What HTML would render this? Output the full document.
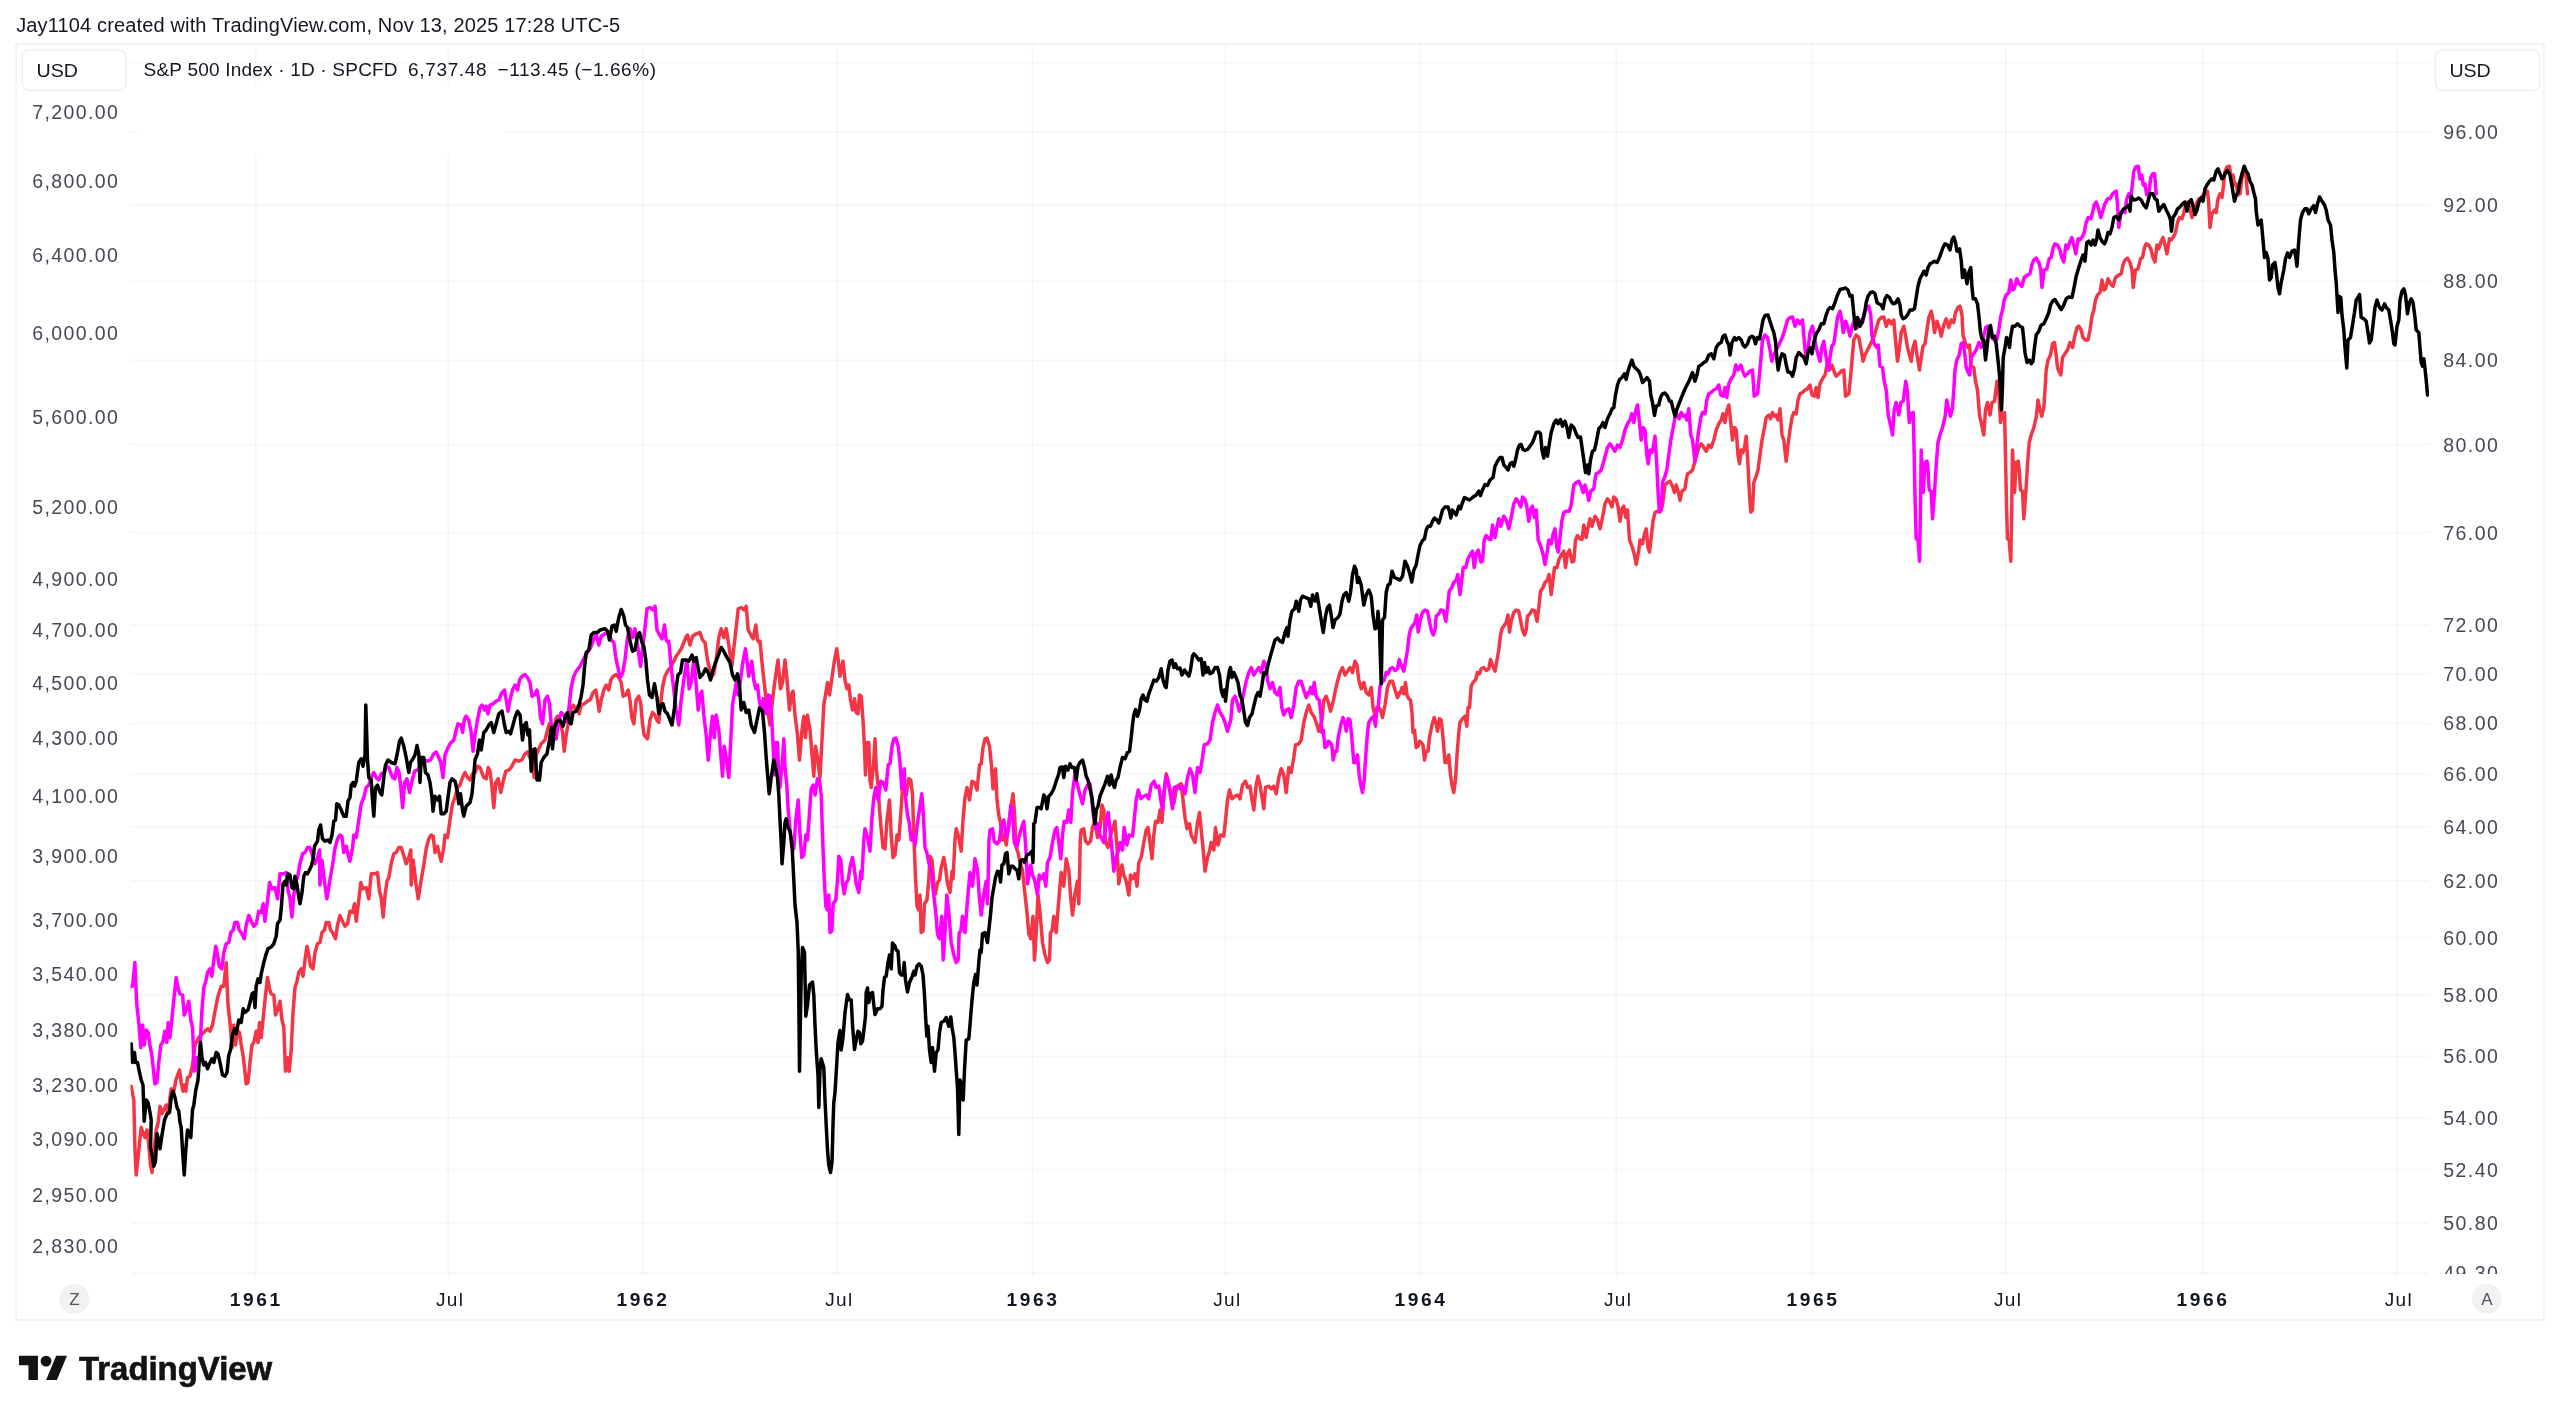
<!DOCTYPE html>
<html><head><meta charset="utf-8"><title>TradingView chart</title>
<style>
html,body{margin:0;padding:0;background:#fff;}
body{width:2560px;height:1417px;overflow:hidden;font-family:"Liberation Sans",sans-serif;}
svg{display:block;position:absolute;left:0;top:0;will-change:transform}
text{font-family:"Liberation Sans",sans-serif;}
.ax{font-size:19.5px;fill:#454955}
.tl{font-size:19px;fill:#131722}
.tb{font-size:19.2px;font-weight:bold;fill:#131722}
</style></head><body>
<svg width="2560" height="1417" viewBox="0 0 2560 1417">
<rect x="0" y="0" width="2560" height="1417" fill="#ffffff"/>

<g stroke="#2a2e39" stroke-opacity="0.042" stroke-width="1.6" fill="none">
<line x1="255.75" y1="44" x2="255.75" y2="1276"/>
<line x1="448.25" y1="44" x2="448.25" y2="1276"/>
<line x1="642.5" y1="44" x2="642.5" y2="1276"/>
<line x1="837.5" y1="44" x2="837.5" y2="1276"/>
<line x1="1032.5" y1="44" x2="1032.5" y2="1276"/>
<line x1="1225.5" y1="44" x2="1225.5" y2="1276"/>
<line x1="1420.5" y1="44" x2="1420.5" y2="1276"/>
<line x1="1616.25" y1="44" x2="1616.25" y2="1276"/>
<line x1="1812.5" y1="44" x2="1812.5" y2="1276"/>
<line x1="2006.25" y1="44" x2="2006.25" y2="1276"/>
<line x1="2202.5" y1="44" x2="2202.5" y2="1276"/>
<line x1="2397" y1="44" x2="2397" y2="1276"/>
<line x1="131" y1="62.8" x2="2429" y2="62.8"/>
<line x1="131" y1="132.3" x2="2429" y2="132.3"/>
<line x1="131" y1="205" x2="2429" y2="205"/>
<line x1="131" y1="281.25" x2="2429" y2="281.25"/>
<line x1="131" y1="360.25" x2="2429" y2="360.25"/>
<line x1="131" y1="444.5" x2="2429" y2="444.5"/>
<line x1="131" y1="532.5" x2="2429" y2="532.5"/>
<line x1="131" y1="625" x2="2429" y2="625"/>
<line x1="131" y1="673.75" x2="2429" y2="673.75"/>
<line x1="131" y1="723.25" x2="2429" y2="723.25"/>
<line x1="131" y1="774" x2="2429" y2="774"/>
<line x1="131" y1="826.75" x2="2429" y2="826.75"/>
<line x1="131" y1="880.75" x2="2429" y2="880.75"/>
<line x1="131" y1="937.5" x2="2429" y2="937.5"/>
<line x1="131" y1="995" x2="2429" y2="995"/>
<line x1="131" y1="1056.25" x2="2429" y2="1056.25"/>
<line x1="131" y1="1118.25" x2="2429" y2="1118.25"/>
<line x1="131" y1="1169.5" x2="2429" y2="1169.5"/>
<line x1="131" y1="1222.9" x2="2429" y2="1222.9"/>
</g>
<rect x="139" y="86" width="367" height="70" fill="#fff"/>
<line x1="131" y1="1273.4" x2="2429" y2="1273.4" stroke="#2a2e39" stroke-opacity="0.042" stroke-width="1.6"/>
<defs><clipPath id="pane"><rect x="130.5" y="44" width="2298.5" height="1229"/></clipPath></defs>
<g clip-path="url(#pane)" fill="none" stroke-width="3.5" stroke-linejoin="round" stroke-linecap="round">
<polyline stroke="#f23645" points="131.2,1086.2 133.8,1100 135,1150 136.2,1175 138.8,1150 141.2,1127.5 143,1132.5 145,1137.5 147,1130 148.8,1145 150.5,1165 152,1172.5 153.8,1150 156.2,1130 158.2,1122.5 160,1106.2 162,1113.8 163.8,1110 166.2,1105 168,1113.8 170,1097.5 171.2,1088.8 173.8,1091.2 176.2,1078.8 179.5,1070 181.2,1082.5 183,1091.2 184.5,1085 185.8,1091.2 187.5,1077.5 190,1076.2 192.5,1065 195,1045 198.8,1037.5 202.5,1033.8 206.2,1030 208,1028.8 210,1031.2 212.5,1025 215,1011.2 218,996.2 221.2,986.2 223.8,986.2 226.2,962.5 228,1005 230,1022.5 232,1047.5 233.8,1025 235.5,1045 237.5,1030 239.5,1032.5 241.2,1045 243,1055 244.5,1067.5 246.2,1083.8 248,1082.5 250,1062.5 252,1045 253.8,1042.5 256.2,1031.2 258,1042.5 259.5,1022.5 261.2,1037.5 263,1020 265,1000 267.5,977.5 269.5,988.8 271.2,993.8 273.8,995 275.5,1015 277.5,1010 280,1001.2 282,1020 283.8,1027.5 285.5,1071.2 287.5,1057.5 289.2,1071.2 291.2,1050 293,1012.5 295,987.5 297,981.2 298.8,972.5 301.2,968.8 303,976.2 305,960 307,946.2 308.8,955 310.5,966.2 313,968.8 315,952.5 317.5,943.8 320,942.5 322,932.5 324.5,930 326.2,922.5 328.8,922.5 330.5,930 332.5,932.5 335.5,938.8 337.5,925 340,915.5 342.5,921.2 345,926.2 347.5,923.8 350,911.2 352.5,912.5 354.5,903.8 356.2,921.2 358.8,900 360.8,882.5 363,888.8 366.2,887.5 368.8,898.8 371.2,873.8 374.5,873.8 377.5,872.5 379.5,891.2 381.2,897.5 383.2,917 385,895 387,881.2 388.8,877.5 391.2,863.8 393.8,853.8 396.2,852.5 398.8,847.5 401.2,847.5 403.2,853.8 406.2,863.8 408.8,857.5 410.8,850 411.2,885 413.2,860 415.8,882.5 418.2,898.8 421.2,880 423.8,865 426.2,848.8 428.8,838.8 431.2,835 433.2,836.2 435,852.5 437.5,846.2 439.2,853.8 441.2,861.2 443.8,847.5 445,835 447.5,837.5 450,820 452.5,803.8 455,797.5 457.5,787.5 460,785 462.5,777.5 465,772.5 467.5,777.5 470,780 472.5,773.8 475,772.5 477.5,766.2 480,767.5 481.8,772.5 483.8,777.5 486.2,778.8 488.2,767.5 490,771.2 491.8,785 493.8,807.5 495.8,782.5 498.2,778.8 500.8,792.5 503.2,781.2 505.8,771.2 508.8,770 511.2,767.5 515,760 518.8,761.2 521.8,760 525,753.8 527.5,752 530,757.5 532,762.5 534.2,777.5 536.2,755 538.8,748.8 541.2,743.8 545,740 547.5,730 549.2,723.8 552.5,725 553.8,732.5 555.8,718.8 557.5,716.2 560,720 562.5,732.5 564.2,751.2 566.2,735 568.8,720 571.2,707.5 573.2,705 575.8,710 577.5,706.2 579.2,713.8 581.2,705 584.2,703.8 587.5,701.2 590,700 593.2,692.5 595.8,690 597.5,700 599.2,711.2 601.2,700 603.8,690 606.2,685 608.8,690 610.8,680 613.2,676.2 616.2,674.5 618.8,677.5 621.2,682.5 623.2,696.2 625.8,695 628.2,690 630,700 631.8,717.5 633.8,723.8 636.2,700 638.8,696.2 640.8,703.8 642.5,723.8 644.2,735 647.5,738.8 650,720 652.5,712.5 655,715 656.8,720 658.8,722.5 660.8,702.5 662.5,687.5 665,676.2 667.5,671.2 671.2,666.2 673.8,661.2 676.2,656.2 678.8,652.5 681.2,648.8 683.8,642.5 685.8,637.5 687.5,635 690,645 692.5,636.2 696.2,633.8 700,632.5 702.5,640 705,642.5 707.5,660 709.2,667.5 711.2,677.5 713.8,673.8 716.2,660 718.8,637.5 721.2,628.8 723.8,637.5 726.2,628.8 728.8,645 731.8,666.2 734.2,645 736.2,627.5 738.2,608.8 741.2,607.5 744.2,610 746.2,606.2 748.2,630 750.8,635 753.2,638.8 755.8,625 757.5,640 759.2,642.5 760,641.2 762.5,667.5 765,690 767.5,710 770,725 772.5,700 775,680 778,660 780.5,688.8 782.5,682.5 785,660 787,680 789.5,710 791.2,695 793,691.2 795,715 797.5,735 799.5,760 802,730 803.8,716.2 805.5,737.5 807.5,715 810,730 812.5,760 813.8,776.2 815.5,746.2 817.5,757.5 820,777.5 822,740 823.8,705 825.5,695 827.5,682.5 829.5,695 832,677.5 834.5,660 836.8,648.8 838.8,665 840,676.2 843,661.2 845,680 847,688.8 848.8,685 850.5,700 852.5,710 854.5,698.8 856.2,712.5 858,713.8 859.5,695 861.2,696.2 863,720 864.5,747.5 865.5,775 867,742.5 868.8,742.5 870,780 871.2,787.5 873.8,760 875,738.8 876.2,767.5 878,785 879.5,810 881.2,828.8 883,847.5 885,848.8 887,820 889.5,800 891.2,835 893,857.5 895,855 897,835 898.8,840 900.5,817.5 902.5,788.8 904.5,785 906.2,795 908.8,778.8 910.8,780 912.5,795 913.8,835 915.5,877.5 917,906.2 918.8,910 920,895 921.2,932.5 923,931.2 924.5,903.8 927,900 928.8,880 930,856.2 932,860 933.8,882.5 935.5,893.8 937.5,882.5 939.5,880 941.2,867.5 943.8,857.5 945.5,867.5 947.5,883.8 950,892.5 952,871.2 953,878.8 954,860 955,840 956.2,828.8 958.8,837.5 961.2,851.2 963,820 965,797.5 967,787.5 969.5,800 972,781.2 974.5,782.5 977,790 979.5,765 981.2,763.8 983,747.5 985,738.8 987,738 989.5,746.2 991.2,762.5 993,788.8 995.5,768.8 997,800 998.8,815 1000.5,822.5 1002.5,840 1004.5,835 1006.2,845 1008.8,822.5 1011.2,806.2 1013,793.8 1014.5,812.5 1016.2,847.5 1018,852.5 1020,862.5 1022.5,870 1024.5,890 1027,912.5 1028.8,933.8 1030.8,938.8 1033,916.2 1034.5,960 1036.2,932.5 1038,895 1040,912.5 1042.5,942.5 1045,955 1047.5,962.5 1049.5,960 1050.5,932.5 1052,931.2 1053.8,916.2 1056.2,932.5 1058.8,900 1061.2,872.5 1063.8,886.2 1066.2,858.8 1068.8,870 1070.5,895 1072.5,915 1075,893.8 1077.5,881.2 1078.8,903.8 1079.8,865 1080.2,840 1081.2,830 1083.8,828.8 1085.5,841.2 1088,843.8 1090.5,841.2 1092.5,827.5 1095,820 1097.5,837.5 1100,827.5 1102,805 1103.8,810 1105.5,842.5 1108,847.5 1110,837.5 1112.5,828.8 1115,821.2 1117,847.5 1118.8,883.8 1122,865 1123.8,875 1126.2,881.2 1128.8,895 1130.5,875 1132.5,878.8 1135,873.8 1137,886.2 1138.8,862.5 1141.2,857.5 1143.8,842.5 1146.2,830 1148,827.5 1150,842.5 1152,858.8 1153.8,835 1155.5,821.2 1158,822.5 1160,810 1162,822.5 1163.8,792.5 1166.2,773.8 1168.8,785 1171.2,795 1173.8,803.8 1176.2,790 1178.8,785 1181.2,783.8 1183,800 1185,817.5 1187,828.8 1189.5,823.8 1191.2,835 1195,842.5 1197.5,822.5 1199.5,812.5 1201.2,830 1203,847.5 1205,871.2 1207.5,857.5 1209.5,851.2 1211.2,842.5 1213.8,850 1215.5,827.5 1218,845 1220.5,835 1223.8,836.2 1225.5,820 1227.5,800 1229.5,790 1232,798.8 1235,796.2 1237.5,795 1240,798.8 1242.5,785 1245.5,781.2 1247.5,787.5 1250,786.2 1252,800 1253.8,810 1256.2,785 1258,776.2 1260,785 1262,797.5 1263.8,808.8 1265.5,787.5 1268.8,786.2 1271.2,788.8 1273.8,786.2 1276.2,793.8 1278.8,777.5 1281.2,768.8 1283.8,775 1286.2,792.5 1288.8,767.5 1291.2,772.5 1293.8,757.5 1295.5,745 1298.8,743.8 1301.2,740 1303.8,722.5 1306.2,712.5 1308.8,705 1311.2,712.5 1313.8,716.2 1316.2,722.5 1318.8,731.2 1322,720 1323.8,700 1326.2,696.2 1328.8,703.8 1330.5,711.2 1333,702.5 1335,692.5 1337.5,681.2 1340,672.5 1342.5,667.5 1345,675 1347.5,671.2 1350,667.5 1352.5,672.5 1355,661.2 1357,665 1358.8,680 1361.2,688.8 1363.8,682.5 1366.2,692.5 1368.8,695 1371.2,687.5 1373,707.5 1375,715 1377.5,710 1380,708.8 1382.5,717.5 1385,705 1387.5,687.5 1390,681.2 1392.5,681.2 1395,690 1397.5,697.5 1399.5,692.5 1400,693.8 1402,687.5 1403.8,693.8 1405.5,682.5 1407,695 1408.8,698.8 1410.5,700 1412,712.5 1413,732.5 1414.5,730 1416.2,747.5 1418,746.2 1419.5,741.2 1421.2,742.5 1423,745 1424.5,760 1426.2,751.2 1428,751.2 1429.5,737.5 1432,725 1434.2,717.5 1436.2,723.8 1437.5,731.2 1439.5,718.8 1441.2,720 1443,737.5 1445,762.5 1447,762.5 1448.8,755 1450.5,775 1452,785 1453.8,792.5 1455.5,780 1457,755 1458.8,732.5 1460,722.5 1462.5,718.8 1465,716.2 1466.8,726.2 1468,707.5 1469.5,707.5 1471.2,686.2 1473,682.5 1475.5,680 1477.5,672.5 1479.5,673.8 1481.2,668.8 1483.8,667.5 1486.2,670.5 1488.8,668.8 1490.5,659.5 1492.5,665 1495,671.2 1497,660 1498.8,650 1500.5,635 1502,628.8 1504.5,625 1506.2,622.5 1508,615 1509.5,632 1511.2,621.2 1513.8,612.5 1516.2,610 1518.8,611.2 1520.5,620 1522.5,630 1524.5,635 1526.2,630 1527.5,616.2 1530,613.8 1532,610 1534.5,610.5 1537,621.2 1538.8,607.5 1540.5,591.2 1543,587.5 1545,582.5 1547.5,580 1549,574.5 1551.2,594.5 1553,580 1554.5,567.5 1557,567.5 1558.8,560 1561.2,555 1563.8,551.2 1565.5,567.5 1567.5,553.8 1569.5,550 1572,562 1573.8,561.2 1575.5,540 1577.5,535.5 1580,538.8 1582,539.5 1583.8,525 1586.2,537.5 1588,527.5 1590,518.8 1592,526.2 1595,516.2 1597.5,520 1600,528.8 1602.5,517.5 1605,503.8 1607.5,498.8 1610,502.5 1612,507 1613.8,497 1616.2,499.5 1618,506.2 1620,521.2 1622,508.8 1623.8,506.2 1625.8,517.5 1627.5,510 1629.5,540 1632,546.2 1634.5,555 1636.2,564.5 1638.8,550 1640,540 1642.5,543.8 1644.5,533.8 1646.2,528.8 1648,547.5 1649.5,552 1651.2,537.5 1653,521.2 1655,512.5 1657.5,511.2 1660.5,511.2 1662.5,505 1665,485 1667.5,482.5 1670,481.2 1672.5,486.2 1674.5,492.5 1676.2,485 1678.8,493.8 1680,500.5 1682,491.2 1685,488.8 1686.2,480 1687.5,473.8 1690,472.5 1692.5,470 1695,461.2 1697,453.8 1698.8,447.5 1701.2,443.8 1703.8,447.5 1706.2,451.2 1708.8,445 1711.2,447.5 1713.8,440 1716.2,430 1718.8,423.8 1721.2,420 1723,413.8 1725,422.5 1727,410 1728.8,405 1730.5,420 1732.5,440 1734.5,427.5 1736.2,430 1738,455 1739.5,463.8 1741.2,450 1743,452.5 1744.5,447.5 1746.2,436.2 1748,465 1749.5,495 1750.8,512 1752.5,510 1753.8,482.5 1756.2,476.2 1758,470 1760,455 1762,440 1764.5,427.5 1766.2,417.5 1768.8,415 1770.5,418.8 1772.5,412.5 1774.5,416.2 1776.2,415 1778,420 1780,408.8 1782,435 1783.8,440 1786.2,461.2 1788,445 1790,430 1792,417.5 1793.8,412.5 1796.2,413.8 1798,400 1800,393.8 1802.5,392.5 1805,390 1807.5,388.8 1810,385 1812,395 1814.5,396.2 1816.2,387.5 1818,397.5 1820,383.8 1822.5,378.8 1825,375 1827,365 1829.5,370 1832,365 1834.5,372.5 1836.2,376.2 1838.8,373.8 1841.2,371.2 1843.8,370 1845.5,396.2 1848.8,393.8 1850.5,377.5 1852,360 1853.8,340 1856.2,335 1858.8,337.5 1861.2,350 1863,361.2 1865,355 1867.5,350 1870,345 1872.5,340 1874.5,335 1876.2,328.8 1878.8,320 1881.2,317.5 1883.8,317 1886.2,326.2 1888.8,320 1891.2,323.8 1893.8,320 1895.5,340 1897.5,361.2 1899.5,347.5 1901.2,332.5 1903.8,326.2 1905.5,335 1907.5,347.5 1909.5,355 1911.2,361.2 1913,347.5 1915,341.2 1917,355 1919.5,370 1921.2,357.5 1923,346.2 1925,343.8 1927,330 1928.8,317.5 1931.2,311.2 1933,320 1934.5,332.5 1937,321.2 1939.5,328.8 1941.2,336.2 1943.8,325 1946.2,318.8 1948.8,327.5 1951.2,320 1953.8,322.5 1955.5,312.5 1958,307.5 1960,306.2 1962,315 1963,335 1965.5,343.8 1968,347.5 1969.5,345 1971.2,366.2 1973.8,367.5 1975.5,381.2 1977.5,390 1979.5,415 1981.2,422.5 1983.8,435 1985.5,410 1987.5,402.5 1990,415 1992,402.5 1994.5,401.2 1997,381.2 1998.8,392.5 2000.5,422.5 2002.5,413.8 2004.5,412.5 2005.5,455 2006.5,505 2007.5,538.8 2009.2,540 2010.8,561.2 2011.8,505 2012.5,450 2014.5,492.5 2016.2,462.5 2018.2,461.2 2019.2,470 2020.5,490 2022.5,491.2 2023.8,518.8 2025.8,492.5 2027.5,465 2029.2,442.5 2031.2,435 2033.8,427.5 2036.2,417.5 2038,400 2040,410 2041.8,416.2 2043.8,407.5 2045,390 2046.2,370 2048,360 2050.5,355 2052.5,343.8 2054.5,342.5 2056.2,355 2057.5,367.5 2059.5,372.5 2060.8,375 2062.5,357.5 2065,353.8 2067.5,350 2070,342.5 2072.5,347.5 2074.5,337.5 2077,327.5 2078.8,326.2 2081.2,330 2083,337.5 2085.5,340 2088,340 2090,330 2092,316.2 2093.8,310 2095.5,300 2097.5,295 2100,292.5 2102,280 2103.8,290 2105.5,288.8 2108,278.8 2110.5,283.8 2113,286.2 2115.5,277.5 2118.8,275 2121.2,273.8 2123,265 2125,260 2127.5,258 2130,262.5 2132,270 2133.2,287.5 2135.5,270 2138,268.8 2140.5,258.8 2142.5,257.5 2144.5,247.5 2146.2,243.8 2148.8,245 2151.2,250 2153,257.5 2155,262 2157,245 2158.8,248.8 2160.8,242.5 2163,237.5 2165,245 2167,253.8 2169.5,238.8 2171.2,240 2173.8,236.2 2175.5,232.5 2177.5,222.5 2179.5,217.5 2182,218.8 2183.8,212.5 2185.5,205 2187.5,202 2189.5,207.5 2192,217.5 2193.8,211.2 2196.2,203.8 2198.8,198.8 2201.2,198.8 2203.8,193.8 2205.5,192.5 2207.5,191.2 2208.8,205 2210,227.5 2212,213.8 2214.5,210 2216.2,212.5 2218,198.8 2220,193.8 2222,197.5 2223.8,182.5 2225,171.2 2227,167 2229.5,166.2 2231.2,178.8 2233,175 2234.5,185 2236.2,183.8 2238,195 2240,193.8 2242,177.5 2243.8,173.8 2245.8,173.8 2247.5,193.8"/>
<polyline stroke="#ff00ff" points="39.9,1086.2 42.6,1100 43.8,1150 44.9,1175 47.6,1150 49.9,1127.5 51.8,1132.5 53.8,1137.5 55.8,1130 57.6,1145 59.2,1165 60.8,1172.5 62.6,1150 64.9,1130 66.9,1122.5 68.8,1106.2 70.8,1113.8 72.6,1110 74.9,1105 76.8,1113.8 78.8,1097.5 79.9,1088.8 82.6,1091.2 84.9,1078.8 88.2,1070 89.9,1082.5 91.8,1091.2 93.2,1085 94.6,1091.2 96.2,1077.5 98.8,1076.2 101.2,1065 103.8,1045 107.6,1037.5 111.2,1033.8 114.9,1030 116.8,1028.8 118.8,1031.2 121.2,1025 123.8,1011.2 126.8,996.2 129.9,986.2 132.6,986.2 134.9,962.5 136.8,1005 138.8,1022.5 140.8,1047.5 142.6,1025 144.2,1045 146.2,1030 148.2,1032.5 149.9,1045 151.8,1055 153.2,1067.5 154.9,1083.8 156.8,1082.5 158.8,1062.5 160.8,1045 162.6,1042.5 164.9,1031.2 166.8,1042.5 168.2,1022.5 169.9,1037.5 171.8,1020 173.8,1000 176.2,977.5 178.2,988.8 179.9,993.8 182.6,995 184.2,1015 186.2,1010 188.8,1001.2 190.8,1020 192.6,1027.5 194.2,1071.2 196.2,1057.5 197.9,1071.2 199.9,1050 201.8,1012.5 203.8,987.5 205.8,981.2 207.6,972.5 209.9,968.8 211.8,976.2 213.8,960 215.8,946.2 217.6,955 219.2,966.2 221.8,968.8 223.8,952.5 226.2,943.8 228.8,942.5 230.8,932.5 233.2,930 234.9,922.5 237.6,922.5 239.2,930 241.2,932.5 244.2,938.8 246.2,925 248.8,915.5 251.2,921.2 253.8,926.2 256.2,923.8 258.8,911.2 261.2,912.5 263.2,903.8 264.9,921.2 267.6,900 269.6,882.5 271.8,888.8 274.9,887.5 277.6,898.8 279.9,873.8 283.2,873.8 286.2,872.5 288.2,891.2 289.9,897.5 291.9,917 293.8,895 295.8,881.2 297.6,877.5 299.9,863.8 302.6,853.8 304.9,852.5 307.6,847.5 309.9,847.5 311.9,853.8 314.9,863.8 317.6,857.5 319.6,850 319.9,885 321.9,860 324.6,882.5 326.9,898.8 329.9,880 332.6,865 334.9,848.8 337.6,838.8 339.9,835 341.9,836.2 343.8,852.5 346.2,846.2 347.9,853.8 349.9,861.2 352.6,847.5 353.8,835 356.2,837.5 358.8,820 361.2,803.8 363.8,797.5 366.2,787.5 368.8,785 371.2,777.5 373.8,772.5 376.2,777.5 378.8,780 381.2,773.8 383.8,772.5 386.2,766.2 388.8,767.5 390.6,772.5 392.6,777.5 394.9,778.8 396.9,767.5 398.8,771.2 400.6,785 402.6,807.5 404.6,782.5 406.9,778.8 409.6,792.5 411.9,781.2 414.6,771.2 417.6,770 419.9,767.5 423.8,760 427.5,761.2 430.5,760 433.8,753.8 436.2,752 438.8,757.5 440.8,762.5 443,777.5 445,755 447.5,748.8 450,743.8 453.8,740 456.2,730 458,723.8 461.2,725 462.5,732.5 464.5,718.8 466.2,716.2 468.8,720 471.2,732.5 473,751.2 475,735 477.5,720 480,707.5 482,705 484.5,710 486.2,706.2 488,713.8 490,705 493,703.8 496.2,701.2 498.8,700 502,692.5 504.5,690 506.2,700 508,711.2 510,700 512.5,690 515,685 517.5,690 519.5,680 522,676.2 525,674.5 527.5,677.5 530,682.5 532,696.2 534.5,695 537,690 538.8,700 540.5,717.5 542.5,723.8 545,700 547.5,696.2 549.5,703.8 551.2,723.8 553,735 556.2,738.8 558.8,720 561.2,712.5 563.8,715 565.5,720 567.5,722.5 569.5,702.5 571.2,687.5 573.8,676.2 576.2,671.2 580,666.2 582.5,661.2 585,656.2 587.5,652.5 590,648.8 592.5,642.5 594.5,637.5 596.2,635 598.8,645 601.2,636.2 605,633.8 608.8,632.5 611.2,640 613.8,642.5 616.2,660 618,667.5 620,677.5 622.5,673.8 625,660 627.5,637.5 630,628.8 632.5,637.5 635,628.8 637.5,645 640.5,666.2 643,645 645,627.5 647,608.8 650,607.5 653,610 655,606.2 657,630 659.5,635 662,638.8 664.5,625 666.2,640 668,642.5 668.8,641.2 671.2,667.5 673.8,690 676.2,710 678.8,725 681.2,700 683.8,680 686.8,660 689.2,688.8 691.2,682.5 693.8,660 695.8,680 698.2,710 700,695 701.8,691.2 703.8,715 706.2,735 708.2,760 710.8,730 712.5,716.2 714.2,737.5 716.2,715 718.8,730 721.2,760 722.5,776.2 724.2,746.2 726.2,757.5 728.8,777.5 730.8,740 732.5,705 734.2,695 736.2,682.5 738.2,695 740.8,677.5 743.2,660 745.5,648.8 747.5,665 748.8,676.2 751.8,661.2 753.8,680 755.8,688.8 757.5,685 759.2,700 761.2,710 763.2,698.8 765,712.5 766.8,713.8 768.2,695 770,696.2 771.8,720 773.2,747.5 774.2,775 775.8,742.5 777.5,742.5 778.8,780 780,787.5 782.5,760 783.8,738.8 785,767.5 786.8,785 788.2,810 790,828.8 791.8,847.5 793.8,848.8 795.8,820 798.2,800 800,835 801.8,857.5 803.8,855 805.8,835 807.5,840 809.2,817.5 811.2,788.8 813.2,785 815,795 817.5,778.8 819.5,780 821.2,795 822.5,835 824.2,877.5 825.8,906.2 827.5,910 828.8,895 830,932.5 831.8,931.2 833.2,903.8 835.8,900 837.5,880 838.8,856.2 840.8,860 842.5,882.5 844.2,893.8 846.2,882.5 848.2,880 850,867.5 852.5,857.5 854.2,867.5 856.2,883.8 858.8,892.5 860.8,871.2 861.8,878.8 862.8,860 863.8,840 865,828.8 867.5,837.5 870,851.2 871.8,820 873.8,797.5 875.8,787.5 878.2,800 880.8,781.2 883.2,782.5 885.8,790 888.2,765 890,763.8 891.8,747.5 893.8,738.8 895.8,738 898.2,746.2 900,762.5 901.8,788.8 904.2,768.8 905.8,800 907.5,815 909.2,822.5 911.2,840 913.2,835 915,845 917.5,822.5 920,806.2 921.8,793.8 923.2,812.5 925,847.5 926.8,852.5 928.8,862.5 931.2,870 933.2,890 935.8,912.5 937.5,933.8 939.5,938.8 941.8,916.2 943.2,960 945,932.5 946.8,895 948.8,912.5 951.2,942.5 953.8,955 956.2,962.5 958.2,960 959.2,932.5 960.8,931.2 962.5,916.2 965,932.5 967.5,900 970,872.5 972.5,886.2 975,858.8 977.5,870 979.2,895 981.2,915 983.8,893.8 986.2,881.2 987.5,903.8 988.5,865 989,840 990,830 992.5,828.8 994.2,841.2 996.8,843.8 999.2,841.2 1001.2,827.5 1003.8,820 1006.2,837.5 1008.8,827.5 1010.8,805 1012.5,810 1014.2,842.5 1016.8,847.5 1018.8,837.5 1021.2,828.8 1023.8,821.2 1025.8,847.5 1027.5,883.8 1030.8,865 1032.5,875 1035,881.2 1037.5,895 1039.2,875 1041.2,878.8 1043.8,873.8 1045.8,886.2 1047.5,862.5 1050,857.5 1052.5,842.5 1055,830 1056.8,827.5 1058.8,842.5 1060.8,858.8 1062.5,835 1064.2,821.2 1066.8,822.5 1068.8,810 1070.8,822.5 1072.5,792.5 1075,773.8 1077.5,785 1080,795 1082.5,803.8 1085,790 1087.5,785 1090,783.8 1091.8,800 1093.8,817.5 1095.8,828.8 1098.2,823.8 1100,835 1103.8,842.5 1106.2,822.5 1108.2,812.5 1110,830 1111.8,847.5 1113.8,871.2 1116.2,857.5 1118.2,851.2 1120,842.5 1122.5,850 1124.2,827.5 1126.8,845 1129.2,835 1132.5,836.2 1134.2,820 1136.2,800 1138.2,790 1140.8,798.8 1143.8,796.2 1146.2,795 1148.8,798.8 1151.2,785 1154.2,781.2 1156.2,787.5 1158.8,786.2 1160.8,800 1162.5,810 1165,785 1166.8,776.2 1168.8,785 1170.8,797.5 1172.5,808.8 1174.2,787.5 1177.5,786.2 1180,788.8 1182.5,786.2 1185,793.8 1187.5,777.5 1190,768.8 1192.5,775 1195,792.5 1197.5,767.5 1200,772.5 1202.5,757.5 1204.2,745 1207.5,743.8 1210,740 1212.5,722.5 1215,712.5 1217.5,705 1220,712.5 1222.5,716.2 1225,722.5 1227.5,731.2 1230.8,720 1232.5,700 1235,696.2 1237.5,703.8 1239.2,711.2 1241.8,702.5 1243.8,692.5 1246.2,681.2 1248.8,672.5 1251.2,667.5 1253.8,675 1256.2,671.2 1258.8,667.5 1261.2,672.5 1263.8,661.2 1265.8,665 1267.5,680 1270,688.8 1272.5,682.5 1275,692.5 1277.5,695 1280,687.5 1281.8,707.5 1283.8,715 1286.2,710 1288.8,708.8 1291.2,717.5 1293.8,705 1296.2,687.5 1298.8,681.2 1301.2,681.2 1303.8,690 1306.2,697.5 1308.2,692.5 1308.8,693.8 1310.8,687.5 1312.5,693.8 1314.2,682.5 1315.8,695 1317.5,698.8 1319.2,700 1320.8,712.5 1321.8,732.5 1323.2,730 1325,747.5 1326.8,746.2 1328.2,741.2 1330,742.5 1331.8,745 1333.2,760 1335,751.2 1336.8,751.2 1338.2,737.5 1340.8,725 1343,717.5 1345,723.8 1346.2,731.2 1348.2,718.8 1350,720 1351.8,737.5 1353.8,762.5 1355.8,762.5 1357.5,755 1359.2,775 1360.8,785 1362.5,792.5 1364.2,780 1365.8,755 1367.5,732.5 1368.8,722.5 1371.2,718.8 1373.8,716.2 1375.5,726.2 1376.8,707.5 1378.2,707.5 1380,686.2 1381.8,682.5 1384.2,680 1386.2,672.5 1388.2,673.8 1390,668.8 1392.5,667.5 1395,670.5 1397.5,668.8 1399.2,659.5 1401.2,665 1403.8,671.2 1405.8,660 1407.5,650 1409.2,635 1410.8,628.8 1413.2,625 1415,622.5 1416.8,615 1418.2,632 1420,621.2 1422.5,612.5 1425,610 1427.5,611.2 1429.2,620 1431.2,630 1433.2,635 1435,630 1436.2,616.2 1438.8,613.8 1440.8,610 1443.2,610.5 1445.8,621.2 1447.5,607.5 1449.2,591.2 1451.8,587.5 1453.8,582.5 1456.2,580 1457.8,574.5 1460,594.5 1461.8,580 1463.2,567.5 1465.8,567.5 1467.5,560 1470,555 1472.5,551.2 1474.2,567.5 1476.2,553.8 1478.2,550 1480.8,562 1482.5,561.2 1484.2,540 1486.2,535.5 1488.8,538.8 1490.8,539.5 1492.5,525 1495,537.5 1496.8,527.5 1498.8,518.8 1500.8,526.2 1503.8,516.2 1506.2,520 1508.8,528.8 1511.2,517.5 1513.8,503.8 1516.2,498.8 1518.8,502.5 1520.8,507 1522.5,497 1525,499.5 1526.8,506.2 1528.8,521.2 1530.8,508.8 1532.5,506.2 1534.5,517.5 1536.2,510 1538.2,540 1540.8,546.2 1543.2,555 1545,564.5 1547.5,550 1548.8,540 1551.2,543.8 1553.2,533.8 1555,528.8 1556.8,547.5 1558.2,552 1560,537.5 1561.8,521.2 1563.8,512.5 1566.2,511.2 1569.2,511.2 1571.2,505 1573.8,485 1576.2,482.5 1578.8,481.2 1581.2,486.2 1583.2,492.5 1585,485 1587.5,493.8 1588.8,500.5 1590.8,491.2 1593.8,488.8 1595,480 1596.2,473.8 1598.8,472.5 1601.2,470 1603.8,461.2 1605.8,453.8 1607.5,447.5 1610,443.8 1612.5,447.5 1615,451.2 1617.5,445 1620,447.5 1622.5,440 1625,430 1627.5,423.8 1630,420 1631.8,413.8 1633.8,422.5 1635.8,410 1637.5,405 1639.2,420 1641.2,440 1643.2,427.5 1645,430 1646.8,455 1648.2,463.8 1650,450 1651.8,452.5 1653.2,447.5 1655,436.2 1656.8,465 1658.2,495 1659.5,512 1661.2,510 1662.5,482.5 1665,476.2 1666.8,470 1668.8,455 1670.8,440 1673.2,427.5 1675,417.5 1677.5,415 1679.2,418.8 1681.2,412.5 1683.2,416.2 1685,415 1686.8,420 1688.8,408.8 1690.8,435 1692.5,440 1695,461.2 1696.8,445 1698.8,430 1700.8,417.5 1702.5,412.5 1705,413.8 1706.8,400 1708.8,393.8 1711.2,392.5 1713.8,390 1716.2,388.8 1718.8,385 1720.8,395 1723.2,396.2 1725,387.5 1726.8,397.5 1728.8,383.8 1731.2,378.8 1733.8,375 1735.8,365 1738.2,370 1740.8,365 1743.2,372.5 1745,376.2 1747.5,373.8 1750,371.2 1752.5,370 1754.2,396.2 1757.5,393.8 1759.2,377.5 1760.8,360 1762.5,340 1765,335 1767.5,337.5 1770,350 1771.8,361.2 1773.8,355 1776.2,350 1778.8,345 1781.2,340 1783.2,335 1785,328.8 1787.5,320 1790,317.5 1792.5,317 1795,326.2 1797.5,320 1800,323.8 1802.5,320 1804.2,340 1806.2,361.2 1808.2,347.5 1810,332.5 1812.5,326.2 1814.2,335 1816.2,347.5 1818.2,355 1820,361.2 1821.8,347.5 1823.8,341.2 1825.8,355 1828.2,370 1830,357.5 1831.8,346.2 1833.8,343.8 1835.8,330 1837.5,317.5 1840,311.2 1841.8,320 1843.2,332.5 1845.8,321.2 1848.2,328.8 1850,336.2 1852.5,325 1855,318.8 1857.5,327.5 1860,320 1862.5,322.5 1864.2,312.5 1866.8,307.5 1868.8,306.2 1870.8,315 1871.8,335 1874.2,343.8 1876.8,347.5 1878.2,345 1880,366.2 1882.5,367.5 1884.2,381.2 1886.2,390 1888.2,415 1890,422.5 1892.5,435 1894.2,410 1896.2,402.5 1898.8,415 1900.8,402.5 1903.2,401.2 1905.8,381.2 1907.5,392.5 1909.2,422.5 1911.2,413.8 1913.2,412.5 1914.2,455 1915.2,505 1916.2,538.8 1918,540 1919.5,561.2 1920.5,505 1921.2,450 1923.2,492.5 1925,462.5 1927,461.2 1928,470 1929.2,490 1931.2,491.2 1932.5,518.8 1934.5,492.5 1936.2,465 1938,442.5 1940,435 1942.5,427.5 1945,417.5 1946.8,400 1948.8,410 1950.5,416.2 1952.5,407.5 1953.8,390 1955,370 1956.8,360 1959.2,355 1961.2,343.8 1963.2,342.5 1964.9,355 1966.2,367.5 1968.2,372.5 1969.6,375 1971.2,357.5 1973.8,353.8 1976.2,350 1978.8,342.5 1981.2,347.5 1983.2,337.5 1985.8,327.5 1987.6,326.2 1989.9,330 1991.8,337.5 1994.2,340 1996.8,340 1998.8,330 2000.8,316.2 2002.6,310 2004.2,300 2006.2,295 2008.8,292.5 2010.8,280 2012.6,290 2014.2,288.8 2016.8,278.8 2019.2,283.8 2021.8,286.2 2024.2,277.5 2027.6,275 2029.9,273.8 2031.8,265 2033.8,260 2036.2,258 2038.8,262.5 2040.8,270 2041.9,287.5 2044.2,270 2046.8,268.8 2049.2,258.8 2051.2,257.5 2053.2,247.5 2054.9,243.8 2057.6,245 2059.9,250 2061.8,257.5 2063.8,262 2065.8,245 2067.6,248.8 2069.6,242.5 2071.8,237.5 2073.8,245 2075.8,253.8 2078.2,238.8 2079.9,240 2082.6,236.2 2084.2,232.5 2086.2,222.5 2088.2,217.5 2090.8,218.8 2092.6,212.5 2094.2,205 2096.2,202 2098.2,207.5 2100.8,217.5 2102.6,211.2 2104.9,203.8 2107.6,198.8 2109.9,198.8 2112.6,193.8 2114.2,192.5 2116.2,191.2 2117.6,205 2118.8,227.5 2120.8,213.8 2123.2,210 2124.9,212.5 2126.8,198.8 2128.8,193.8 2130.8,197.5 2132.6,182.5 2133.8,171.2 2135.8,167 2138.2,166.2 2139.9,178.8 2141.8,175 2143.2,185 2144.9,183.8 2146.8,195 2148.8,193.8 2150.8,177.5 2152.6,173.8 2154.6,173.8 2156.2,193.8"/>
<polyline stroke="#000000" points="131.2,1043.8 132.5,1062.5 134.5,1052.5 135.5,1062.5 137.5,1062.5 139.5,1072.5 141.2,1080 143,1085 144.2,1121.2 146.2,1100 148,1102.5 150,1112.5 151.2,1120 150.5,1147.5 152.5,1157.5 153.8,1166.2 155.5,1161.2 157,1133.8 158.8,1140 160,1148.8 162,1135 164.5,1120 167,1113.8 169.5,1112.5 171.2,1097.5 173,1091.2 175,1097.5 177,1107.5 178.8,1111.2 180,1122.5 181.2,1127.5 182.5,1150 184.2,1175 185.8,1150 187.5,1130 189.5,1132.5 190.8,1137.5 192.5,1110 193.8,1105 195.8,1090 198,1080 199.5,1057.5 200.5,1042.5 202,1057.5 203.8,1065 205.5,1062.5 207.5,1068.8 209.5,1063.8 212,1058.8 213.8,1062.5 216.2,1052.5 218,1053.8 220,1062.5 222.5,1075 225,1076.2 227,1072.5 228.8,1055 230.5,1050 232.5,1035 234.5,1028.8 236.2,1033.8 238.8,1020 241.2,1022.5 243.2,1008.8 245,1012.5 248,1010 250,1002.5 252,993.8 253.8,992.5 255,1007.5 256.2,986.2 258,978.8 260,982.5 261.2,973.8 263.8,962.5 266.2,953.8 268,948.8 271.2,947 273.8,943.8 276.2,936.2 277.5,923.8 280,920 281.2,908.8 283,883.8 285,881.2 286.2,885 288,873.8 290,875 292,887.5 293.8,888.8 295,876.2 297,885 298.8,897.5 300,903.8 302,892.5 303.8,876.2 305.5,872.5 307.5,873.8 309.5,870 311.2,866.2 313,860 314.5,846.2 317.5,841.2 318.8,830 320.5,825 322.5,838.8 325,841.2 328,840 330,842.5 332,835 333.8,821.2 335.5,820 336.8,803.8 338.8,805 341.2,810 343.8,816.2 346.2,816.2 348,801.2 350,797.5 351.2,785 353,782.5 354.5,786.2 356.2,781.2 358.8,762.5 361.2,758.8 363,766.2 365,755 365.8,705 367.5,760 368.8,777.5 371.2,780 372.5,800 373.8,816.2 375.5,787.5 377.5,785 380,792.5 381.8,795 383.8,777.5 385.5,765 388,760 391.2,762.5 395,763.8 397.5,752.5 399.5,741.2 401.2,738 403.8,746.2 406.2,757.5 408.8,772.5 410.5,762.5 413,758.8 415,755 417,745.5 418.8,753.8 420,782.5 421.2,757.5 423.8,757.5 425.5,772.5 428,775 430,782.5 432,797.5 433,811.2 435,796.2 437.5,800 439.5,796.2 441.2,813.8 443.8,813.8 446.2,811.2 448,797.5 450,782.5 452,778.8 455,781.2 457,790 458.8,803.8 460.5,793.8 462.5,810 463.8,816.2 466.2,806.2 470,802.5 472,793.8 473.8,775 475,760 477.5,753.8 479.5,740 481.2,750 483.8,732.5 486.2,730 488.8,725 491.2,722.5 493.8,732.5 496.2,723.8 498.8,713.8 502,711.2 504.5,725 506.2,732.5 508.8,731.2 510.5,733.8 513,725 515,717.5 517.5,711.2 520,715 522.5,740 524.5,725 526.2,722.5 528,735 529.5,730 531.2,771.2 533,750 535,748.8 537,780 539.5,780 541.2,762.5 543.8,757.5 547,753.8 549.5,740 551.2,727.5 552.5,748.8 554.5,727.5 557,721.2 560,720 563,726.2 565.5,716.2 567.5,712.5 569.5,722.5 571.2,723.8 573,712.5 576.2,711.2 578.8,706.2 581.2,696.2 583,685 584.5,667.5 586.2,652.5 588.8,650 591.2,635 593.8,632.5 597.5,632.5 600,630 605,628.8 607.5,631.2 609.5,640 612,626.2 614.5,625 616.2,631.2 618.8,617.5 621.2,609.5 623.8,616.2 625.5,625 627.5,627.5 630,641.2 632.5,651.2 635,650 637.5,635 639.5,632.5 642,642.5 643.8,646.2 645.8,660 647.5,680 649.5,695 652,697.5 654.5,683.8 657,697.5 658.8,713.8 661.2,705 663,703.8 665,711.2 667.5,713.8 670,720 672,725 674.5,707.5 676.2,687.5 678,675 680.5,672.5 682.5,660 685.5,660 688.8,661.2 692,655 693.8,661.2 696.2,657.5 698,667.5 700,677.5 703,673.8 705.5,668.8 708,672.5 710.5,680 713,670 715.5,662.5 718,656.2 721.2,647.5 723.8,651.2 726.2,656.2 730,662.5 732.5,675 735,680 737.5,673.8 739.5,685 741.2,710 743.8,702.5 746.2,712.5 748.8,710 751.2,725 754.5,732.5 757,720 759.5,708 762.5,711.2 764.5,732.5 766.2,757.5 768,780 769.2,793.8 771.2,777.5 773.8,760 775.5,767.5 777.5,777.5 778.8,795 780,820 781.2,842.5 782,863.8 783.8,842.5 785,822.5 786.2,818.8 788,827.5 790,831.2 792,845 793.8,880 795,905 797,922.5 798.2,950 798.8,1000 799.5,1071.2 801.2,975 802.5,947.5 804.5,952.5 805.8,1016.2 807.5,1005 809.5,985 812.5,982 813.8,995 815,1025 816.2,1050 818,1075 818.8,1107.5 820,1070 821.2,1058.8 823.8,1067.5 825,1100 826.2,1125 827.5,1150 828.8,1165 830.5,1172.5 832,1162.5 833,1125 833.8,1102.5 835,1092.5 836.2,1072.5 838,1042.5 840,1030.5 841.2,1050 843,1037.5 845,1012.5 847.5,994.5 849.5,1000 851.2,1000 852.5,1025 854.5,1049.5 856.2,1040 858,1031.2 859.5,1032.5 860.8,1043.8 862.5,1041.2 864.5,1025 865.5,1016.2 866.2,992.5 867.5,988 868.8,1002.5 870.5,993.8 872.5,992.5 873.8,1005 875,1014.5 877.5,1008.8 880,1008.8 882,1006.2 883,990 884.5,977.5 886.2,976.2 888,962.5 889.5,955 891.2,968.8 892.5,943 895,946.2 896.2,950 898,951.2 899.5,972.5 901.2,975 903,975 904.2,962.5 905.5,980 907.5,992 909.5,982.5 912,977 913.8,971.2 915,975 917,966.2 919,963.8 921.2,966.2 923,975 924.5,995 925.5,1015 926.8,1036.2 928,1026.2 929.5,1050 931.2,1062.5 932.5,1047.5 934.5,1071.2 936.2,1052.5 938,1050 939.5,1032.5 941.2,1022.5 943.8,1021.2 946.2,1017.5 948.8,1026.2 950.8,1017 952,1027.5 953.8,1037.5 955,1052.5 956.2,1070 957.5,1087.5 958.8,1134.5 960,1080 962,1087.5 963.2,1100 964.5,1070 966.2,1040 968.8,1038.8 970,1025 972,1000 973.8,982.5 975.5,974.5 977,985 978.8,962.5 980,950 981.2,952.5 982.5,933.8 985,932.5 987.5,942.5 988.8,930 990.5,915 992,897.5 993.8,887.5 995.5,877.5 997.5,871.2 999.5,872.5 1000.5,882 1002,865 1003.8,863.8 1005.5,853.8 1007,852.5 1008.8,873.8 1010.8,866.2 1013,866.2 1015,868.8 1017,870 1018.8,878.8 1020.5,861.2 1022.5,859.5 1024.5,862.5 1027,855 1029.5,853.8 1032,851.2 1033,862.5 1033.8,823.8 1035,822.5 1037,807.5 1039.5,807.5 1041.2,808.8 1043.8,795 1045.5,797.5 1047,808.8 1048.8,796.2 1051.2,793.8 1053.8,788.8 1056.2,781.2 1058.8,773.8 1060,767.5 1062.5,767 1063.8,777.5 1065.5,766.2 1068,770 1070,763.8 1072,767.5 1074.5,767.5 1076.2,780 1078,766.2 1080,762.5 1082.5,760 1084.5,767.5 1086.2,776.2 1088,780 1090,788.8 1092,797.5 1093.8,815 1095,823.8 1096.2,810 1098,806.2 1100,796.2 1102.5,790 1105,783.8 1107.5,776.2 1109.5,785 1111.2,775 1113,783.8 1114.5,787.5 1116.2,780 1118,777.5 1120,767.5 1122.5,757.5 1125,758.8 1127.5,752.5 1129.5,751.2 1131.2,737.5 1132.5,725 1133.8,715 1135.5,709.5 1137.5,716.2 1139.5,710 1141.2,698.8 1143,695 1145,700 1147,701.2 1148.8,693.8 1151.2,687.5 1153.8,680 1156.2,681.2 1158.8,677.5 1161.2,668.8 1163,680 1165,686.2 1166.2,687.5 1168,670 1170,661.2 1172,660 1173.8,667.5 1175.5,663.8 1177.5,668.8 1180,668 1182,675 1184.5,670 1187,673.8 1188.8,676.2 1190.5,670 1192.5,656.2 1193.8,653.8 1196.2,656.2 1198.8,660 1201.2,658.8 1203,675 1204.5,662.5 1206.2,672.5 1208,667.5 1210,673.8 1212.5,672.5 1215,667.5 1217.5,667.5 1219.5,675 1221.2,690 1223,696.2 1224.5,690 1225.5,701.2 1227.5,682.5 1229.5,670 1230.5,667.5 1232,677.5 1233.8,672.5 1235.5,676.2 1238,682.5 1240,695 1242,700 1243.8,711.2 1245.5,722.5 1247.5,725.5 1249.5,717.5 1252,713.8 1253.8,706.2 1256.2,696.2 1258,692.5 1260,696.2 1262,685 1263.8,672.5 1266.2,673.8 1268,665 1270,657.5 1272.5,648.8 1275,640 1277.5,638 1280,641.2 1282.5,642.5 1285,632.5 1287,627.5 1288,636.2 1290,620 1292,611.2 1294.5,608.8 1296.2,601.2 1298.8,611.2 1300.5,600 1302.5,596.2 1305.5,597.5 1308.8,598.8 1310.8,606.2 1312.5,595 1315,601.2 1317,593.8 1318.8,605 1321.2,620 1323.2,632.5 1325.5,616.2 1327.5,607.5 1329.5,605 1331.2,615 1333,627.5 1335,620 1338,617.5 1340,613.8 1342,601.2 1343.8,595 1346.2,592.5 1348.8,601.2 1350.5,592.5 1352.5,575 1354.5,566.2 1356.2,570 1357.5,582.5 1358.8,577.5 1361.2,585 1363.8,605 1366.2,595 1368.8,590 1371.2,596.2 1373,615 1375,628.8 1377,627.5 1378,611.2 1379.5,630 1381.2,683.8 1382.5,620 1384.5,617.5 1386.2,592.5 1388,585 1390,583.8 1392,571.2 1394.5,577.5 1397.5,578.8 1399.5,580 1400,580 1402.5,576.2 1405,561.2 1407.5,566.2 1410,574.5 1411.8,582 1413.8,570 1416.2,565 1418,555 1420,545.5 1422.5,540.5 1424.5,538.8 1426.2,530 1428,526.2 1430.5,526.2 1432.5,521.2 1434.5,518 1437,520 1438.8,523 1440.5,517.5 1442.5,510 1445,507 1448,507 1449.5,511.2 1450.8,518 1452.5,510 1454.5,512.5 1456.2,515 1458.8,506.2 1460.5,508.8 1462.5,502.5 1464.5,497.5 1467,498.8 1469.5,500 1472.5,497.5 1476.2,495 1478.8,491.2 1480.5,495.5 1482.5,490 1485,484.5 1487.5,485.5 1490,480 1493,477.5 1495,466.2 1497.5,461.2 1500,457.5 1502,457.5 1503.8,465 1506.2,467.5 1508,470 1510,463.8 1512,462.5 1513.8,466.2 1515.5,460 1517.5,450 1519.5,445 1521.2,444.5 1523,449.5 1525,450.5 1527.5,449.5 1530,446.2 1532.5,442.5 1534.5,437.5 1536.2,432.5 1538.8,432 1540.5,433.8 1542,450 1543.8,458 1545.5,447.5 1547.5,456.2 1549.5,442.5 1551.2,432.5 1553.8,423.8 1556.2,420 1558,423.8 1560.5,419.5 1562.5,426.2 1565,421.2 1567,427.5 1568.8,437.5 1571.2,425 1573.8,427.5 1576.2,433.8 1578,437.5 1580.5,437 1582,447.5 1583.8,460 1585.5,472.5 1587.5,465 1588.8,473.8 1590.5,460 1592.5,451.2 1594.5,450 1596.2,442.5 1598.8,428.8 1601.2,426.2 1603,422.5 1605,427.5 1607.5,418.8 1610,413.8 1612,408.8 1613.8,407.5 1615.5,395 1617.5,385 1619.5,379.5 1622,377.5 1624.5,373.8 1626.2,379.5 1628,371.2 1630,365 1632,360 1633.8,366.2 1636.2,368.8 1638.8,371.2 1640.5,375 1642.5,382.5 1645,380 1647,377.5 1649.5,381.2 1650.8,395 1652.5,402.5 1654.5,415.5 1656.2,406.2 1658.8,405 1660.5,397.5 1662.5,393.8 1665,393 1667.5,396.2 1669.5,401.2 1671.2,401.2 1673,408.8 1675,416.2 1677,408.8 1679.5,402.5 1682,396.2 1684.5,390 1687,385 1689.5,380 1692.5,372.5 1695,381.2 1697,375 1698.8,366.2 1701.2,365 1703.8,362.5 1706.2,361.2 1708.8,355 1711.2,353.8 1713.8,358.8 1716.2,347.5 1718.8,343.8 1721.2,342.5 1723,336.2 1725,335 1727,341.2 1728.8,345 1730,355 1732,342.5 1734.5,337.5 1736.2,340 1738.8,337.5 1741.2,340 1743,345 1745,347 1747.5,343.8 1749.5,338 1752,336.2 1753.8,337.5 1755.5,343.8 1757.5,337.5 1759.5,338.8 1761.2,330 1763,320 1765,315.5 1768,315 1770,321.2 1772,327.5 1773.8,332.5 1775.5,341.2 1777,360 1778.2,370 1780,360 1782,353.8 1784.5,355 1786.2,365 1788,372 1790.5,372.5 1792.5,376.2 1794.5,368.8 1796.2,357.5 1798.8,352.5 1801.2,355 1803.8,357.5 1806.2,363.8 1808,352.5 1810,347.5 1812,353.8 1813.8,342.5 1816.2,333.8 1818.8,330 1821.2,323.8 1823.8,323.8 1825.8,316.2 1828,310 1830,307.5 1832.5,308.8 1835,302.5 1837.5,295 1840,289.5 1843,288.8 1845.5,288 1848,290 1850,296.2 1852,295.5 1853.8,313.8 1855.5,328.8 1857.5,317.5 1860,326.2 1862,322.5 1864.5,313.8 1866.2,302.5 1868,296.2 1870.5,292.5 1873,292 1875,293.8 1877,302.5 1878.8,303.8 1881.2,305 1883,308.8 1885,298.8 1887,295.5 1889.5,297.5 1891.2,301.2 1893,303.8 1895.5,303 1898,298.8 1900,305 1901.2,315 1903,318.8 1905.5,317.5 1907.5,315 1910,310 1912.5,310 1914.5,308.8 1916.2,297.5 1918,286.2 1920,278.8 1922,275 1923.8,271.2 1926.2,275 1928,267.5 1930,263.8 1932.5,262.5 1934.5,261.2 1937,262.5 1939.5,257.5 1941.2,252.5 1943,247.5 1945,243.8 1947.5,245 1950,250 1952,240 1953.8,237 1955.5,242.5 1957,251.2 1959.5,248.8 1961.2,260 1962.5,277.5 1964.5,270 1967,283.8 1968.8,272.5 1970.8,267.5 1972,287.5 1973.2,298.8 1975.5,298.8 1977.5,303.8 1978.8,315 1980.5,332.5 1982,338.8 1983.8,340 1985.5,360 1987,347.5 1988.8,330 1990.5,325.5 1992.5,337.5 1994.5,336.2 1996.2,343.8 1998,360 1999.5,375 2000.5,392.5 2001.5,410 2002.5,385 2003.2,357.5 2005,347.5 2006.5,337.5 2008,340 2009.5,347.5 2010.5,337.5 2012.5,326.2 2015,326.2 2017.5,323.8 2020,326.2 2022.5,327.5 2023.8,340 2025,352.5 2027,362.5 2029.5,360 2031.2,363.8 2033,361.2 2034.5,347.5 2036.2,335 2038.8,331.2 2041.2,325 2043.8,323.8 2046.2,318.8 2048.8,312.5 2050.5,305 2052.5,301.2 2055,299.5 2057.5,303.8 2061.2,309.5 2063.8,305 2066.2,298.8 2068.8,297 2072,297.5 2073.8,288.8 2076.2,276.2 2078.8,267.5 2081.2,260 2083,255 2085,261.2 2086.8,242.5 2088.8,241.2 2091.2,245 2093,240 2095,245 2096.8,238.8 2098,230 2100,237.5 2102,241.2 2104.5,243.8 2106.2,240 2108,232.5 2110,233.8 2112,227.5 2113.8,217.5 2116.2,216.2 2118.8,220 2121.2,212.5 2123.8,208.8 2126.2,207.5 2128.8,205 2130,211.2 2131.2,196.2 2133.8,200 2136.2,199.5 2138.8,198 2141.2,200 2143.8,205 2146.2,208 2148,201.2 2150,193.8 2153,193.8 2155,198.8 2157,200 2158.8,211.2 2161.2,207.5 2163.8,204.5 2166.2,210 2168.8,215 2170.5,220 2171.5,231.2 2173,217.5 2175.5,213.8 2177.5,208.8 2180,207 2182.5,203.8 2185,202 2187,211.2 2188.8,202.5 2191.2,199.5 2193,206.2 2195,214.5 2197,210 2198.8,202.5 2201.2,197.5 2203,201.2 2205,188.8 2207,185 2209.5,181.2 2212,178.8 2213.8,180 2216.2,171.2 2218,168.8 2220,173.8 2222,178.8 2223.8,177 2225.5,172.5 2227.5,170.5 2230,175 2232,186.2 2234.5,201.2 2236.2,195 2238,192.5 2240,181.2 2242,173.8 2244.2,166.2 2246.2,171.2 2248,173.8 2250,181.2 2252,185 2253.8,192.5 2255.5,198.8 2256.2,211.2 2258,225 2259.5,222.5 2261.2,220 2263,240 2264.5,257.5 2266.2,252.5 2268,258.8 2269.5,280 2271.2,277.5 2272.5,265 2275,262.5 2276.2,271.2 2278,287.5 2279.5,293.8 2281.2,282.5 2283.8,270 2285.5,258.8 2287.5,253 2289.5,257.5 2292,251.2 2294.5,250 2296.2,260 2297,266.2 2298.8,240 2300.5,220 2302.5,212.5 2305,208.8 2307,208.8 2308.8,213.8 2311.2,208.8 2313.8,205.5 2315.5,212.5 2317.5,203.8 2319.5,197 2322,201.2 2324.5,205 2326.2,210 2328,220 2330.5,225 2332,240 2333.8,252.5 2335,270 2336.2,282.5 2338,312.5 2338.8,296.2 2340.8,297.5 2342,315 2343.8,330 2345,347.5 2346.8,368 2348,340 2350.5,337.5 2352.5,325 2354.5,312.5 2356.2,300 2358,297.5 2359.5,294.5 2361.2,317.5 2363.8,318.8 2366.2,321.2 2368,332.5 2369.5,343 2371.2,340 2373,325 2375,307.5 2377,300 2379.5,307.5 2382,310 2384.5,303.8 2386.2,307.5 2388.8,310 2390.5,320 2392.5,332.5 2393.8,343.8 2395,345 2397,326.2 2398.8,320 2400,300 2402,291.2 2403.8,288.8 2405.5,295 2407.5,313.8 2409.5,302.5 2411.2,298.8 2413,302.5 2415,317.5 2416.2,330 2418.8,332.5 2420,347.5 2421.2,362.5 2422.5,366.2 2423.8,358.8 2425,368.8 2426.2,380 2427.5,395"/>
</g>
<rect x="16" y="44" width="2528" height="1276" fill="none" stroke="#eef0f2" stroke-width="1.6"/>
<rect x="22" y="50" width="104" height="40.5" rx="7" ry="7" fill="#fff" stroke="#eef0f2" stroke-width="1.6"/>
<rect x="2435.5" y="50" width="104" height="40.5" rx="7" ry="7" fill="#fff" stroke="#eef0f2" stroke-width="1.6"/>
<text x="36.6" y="76.6" font-size="18.6" fill="#131722" textLength="41.4" lengthAdjust="spacingAndGlyphs">USD</text>
<text x="2449.4" y="76.6" font-size="18.6" fill="#131722" textLength="41.4" lengthAdjust="spacingAndGlyphs">USD</text>
<text x="16.2" y="32.3" font-size="20" fill="#131722" textLength="604" lengthAdjust="spacing">Jay1104 created with TradingView.com, Nov 13, 2025 17:28 UTC-5</text>
<text x="143.6" y="75.8" font-size="19" fill="#131722" textLength="254" lengthAdjust="spacing">S&amp;P 500 Index · 1D · SPCFD</text>
<text x="408" y="75.8" font-size="19" fill="#131722" textLength="78.6" lengthAdjust="spacing">6,737.48</text>
<text x="497.6" y="75.8" font-size="19" fill="#131722" textLength="71" lengthAdjust="spacing">−113.45</text>
<text x="574.4" y="75.8" font-size="19" fill="#131722" textLength="81.6" lengthAdjust="spacing">(−1.66%)</text>
<text class="ax" x="32.2" y="119.0" textLength="85.6" lengthAdjust="spacing">7,200.00</text>
<text class="ax" x="32.2" y="188.4" textLength="85.6" lengthAdjust="spacing">6,800.00</text>
<text class="ax" x="32.2" y="262.0" textLength="85.6" lengthAdjust="spacing">6,400.00</text>
<text class="ax" x="32.2" y="340.4" textLength="85.6" lengthAdjust="spacing">6,000.00</text>
<text class="ax" x="32.2" y="424.1" textLength="85.6" lengthAdjust="spacing">5,600.00</text>
<text class="ax" x="32.2" y="514.1" textLength="85.6" lengthAdjust="spacing">5,200.00</text>
<text class="ax" x="32.2" y="586.3" textLength="85.6" lengthAdjust="spacing">4,900.00</text>
<text class="ax" x="32.2" y="636.9" textLength="85.6" lengthAdjust="spacing">4,700.00</text>
<text class="ax" x="32.2" y="689.7" textLength="85.6" lengthAdjust="spacing">4,500.00</text>
<text class="ax" x="32.2" y="744.9" textLength="85.6" lengthAdjust="spacing">4,300.00</text>
<text class="ax" x="32.2" y="802.7" textLength="85.6" lengthAdjust="spacing">4,100.00</text>
<text class="ax" x="32.2" y="863.4" textLength="85.6" lengthAdjust="spacing">3,900.00</text>
<text class="ax" x="32.2" y="927.4" textLength="85.6" lengthAdjust="spacing">3,700.00</text>
<text class="ax" x="32.2" y="981.0" textLength="85.6" lengthAdjust="spacing">3,540.00</text>
<text class="ax" x="32.2" y="1037.2" textLength="85.6" lengthAdjust="spacing">3,380.00</text>
<text class="ax" x="32.2" y="1092.3" textLength="85.6" lengthAdjust="spacing">3,230.00</text>
<text class="ax" x="32.2" y="1146.1" textLength="85.6" lengthAdjust="spacing">3,090.00</text>
<text class="ax" x="32.2" y="1202.4" textLength="85.6" lengthAdjust="spacing">2,950.00</text>
<text class="ax" x="32.2" y="1252.8" textLength="85.6" lengthAdjust="spacing">2,830.00</text>
<defs><clipPath id="rclip"><rect x="2430" y="44" width="114" height="1230"/></clipPath></defs><g clip-path="url(#rclip)">
<text class="ax" x="2443.2" y="139.3" textLength="54.6" lengthAdjust="spacing">96.00</text>
<text class="ax" x="2443.2" y="212" textLength="54.6" lengthAdjust="spacing">92.00</text>
<text class="ax" x="2443.2" y="288.25" textLength="54.6" lengthAdjust="spacing">88.00</text>
<text class="ax" x="2443.2" y="367.25" textLength="54.6" lengthAdjust="spacing">84.00</text>
<text class="ax" x="2443.2" y="451.5" textLength="54.6" lengthAdjust="spacing">80.00</text>
<text class="ax" x="2443.2" y="539.5" textLength="54.6" lengthAdjust="spacing">76.00</text>
<text class="ax" x="2443.2" y="632" textLength="54.6" lengthAdjust="spacing">72.00</text>
<text class="ax" x="2443.2" y="680.75" textLength="54.6" lengthAdjust="spacing">70.00</text>
<text class="ax" x="2443.2" y="730.25" textLength="54.6" lengthAdjust="spacing">68.00</text>
<text class="ax" x="2443.2" y="781" textLength="54.6" lengthAdjust="spacing">66.00</text>
<text class="ax" x="2443.2" y="833.75" textLength="54.6" lengthAdjust="spacing">64.00</text>
<text class="ax" x="2443.2" y="887.75" textLength="54.6" lengthAdjust="spacing">62.00</text>
<text class="ax" x="2443.2" y="944.5" textLength="54.6" lengthAdjust="spacing">60.00</text>
<text class="ax" x="2443.2" y="1002" textLength="54.6" lengthAdjust="spacing">58.00</text>
<text class="ax" x="2443.2" y="1063.25" textLength="54.6" lengthAdjust="spacing">56.00</text>
<text class="ax" x="2443.2" y="1125.25" textLength="54.6" lengthAdjust="spacing">54.00</text>
<text class="ax" x="2443.2" y="1176.5" textLength="54.6" lengthAdjust="spacing">52.40</text>
<text class="ax" x="2443.2" y="1229.9" textLength="54.6" lengthAdjust="spacing">50.80</text>
<text class="ax" x="2443.2" y="1280.3" textLength="54.6" lengthAdjust="spacing">49.30</text>
</g>
<text class="tb" x="229.75" y="1306.2" textLength="50.4" lengthAdjust="spacing">1961</text>
<text class="tl" x="435.95" y="1306.2" textLength="27" lengthAdjust="spacing">Jul</text>
<text class="tb" x="616.5" y="1306.2" textLength="50.4" lengthAdjust="spacing">1962</text>
<text class="tl" x="825.2" y="1306.2" textLength="27" lengthAdjust="spacing">Jul</text>
<text class="tb" x="1006.5" y="1306.2" textLength="50.4" lengthAdjust="spacing">1963</text>
<text class="tl" x="1213.2" y="1306.2" textLength="27" lengthAdjust="spacing">Jul</text>
<text class="tb" x="1394.5" y="1306.2" textLength="50.4" lengthAdjust="spacing">1964</text>
<text class="tl" x="1603.95" y="1306.2" textLength="27" lengthAdjust="spacing">Jul</text>
<text class="tb" x="1786.5" y="1306.2" textLength="50.4" lengthAdjust="spacing">1965</text>
<text class="tl" x="1993.95" y="1306.2" textLength="27" lengthAdjust="spacing">Jul</text>
<text class="tb" x="2176.5" y="1306.2" textLength="50.4" lengthAdjust="spacing">1966</text>
<text class="tl" x="2384.7" y="1306.2" textLength="27" lengthAdjust="spacing">Jul</text>
<circle cx="74.4" cy="1298.8" r="15" fill="#f2f2f2"/>
<text x="74.4" y="1305" font-size="17" fill="#50535e" text-anchor="middle">Z</text>
<circle cx="2486.8" cy="1298.8" r="15" fill="#f2f2f2"/>
<text x="2486.8" y="1305" font-size="17" fill="#50535e" text-anchor="middle">A</text>
<g transform="translate(19,1350.3) scale(1.352)" fill="#131313"><path d="M14 22H7V11H0V4h14v18z"/><circle cx="20" cy="8" r="4"/><path d="M28 22h-8l7.5-18h8L28 22z"/></g>
<text x="79" y="1380" font-size="34" font-weight="bold" fill="#131313" stroke="#131313" stroke-width="0.7" textLength="193.2" lengthAdjust="spacingAndGlyphs">TradingView</text>
</svg></body></html>
